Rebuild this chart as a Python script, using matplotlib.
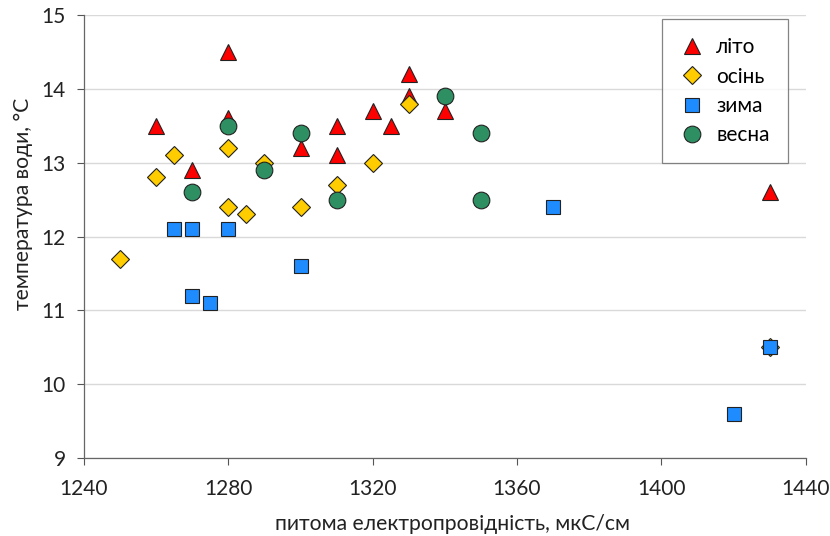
import matplotlib
matplotlib.use("Agg")
import matplotlib.pyplot as plt

plt.rcParams['font.family'] = ['Lato', 'DejaVu Sans']

summer_x = [1260, 1270, 1280, 1280, 1300, 1310, 1310, 1320, 1325, 1330, 1330, 1340, 1430]
summer_y = [13.5, 12.9, 14.5, 13.6, 13.2, 13.5, 13.1, 13.7, 13.5, 14.2, 13.9, 13.7, 12.6]

autumn_x = [1250, 1260, 1265, 1280, 1280, 1285, 1290, 1300, 1310, 1320, 1330, 1430]
autumn_y = [11.7, 12.8, 13.1, 13.2, 12.4, 12.3, 13.0, 12.4, 12.7, 13.0, 13.8, 10.5]

winter_x = [1265, 1270, 1280, 1270, 1275, 1300, 1370, 1420, 1430]
winter_y = [12.1, 12.1, 12.1, 11.2, 11.1, 11.6, 12.4, 9.6, 10.5]

spring_x = [1270, 1280, 1290, 1300, 1310, 1340, 1350, 1350]
spring_y = [12.6, 13.5, 12.9, 13.4, 12.5, 13.9, 13.4, 12.5]

labels = ['літо', 'осінь', 'зима', 'весна']
x_ticks = [1240, 1280, 1320, 1360, 1400, 1440]
y_ticks = [9, 10, 11, 12, 13, 14, 15]

fig = plt.figure(figsize=(8.3, 5.36), dpi=100)
ax = fig.add_axes([0.1012, 0.1455, 0.8695, 0.8265])

edge = '#222222'
ax.plot(summer_x, summer_y, '^', ms=11.5, mfc='#FF0000', mec=edge, mew=0.8, label=labels[0], zorder=3)
ax.plot(autumn_x, autumn_y, 'D', ms=9, mfc='#FFCC00', mec=edge, mew=0.8, label=labels[1], zorder=4)
ax.plot(winter_x, winter_y, 's', ms=10.5, mfc='#1E8CFF', mec=edge, mew=0.8, label=labels[2], zorder=5)
ax.plot(spring_x, spring_y, 'o', ms=12, mfc='#2E9062', mec=edge, mew=0.8, label=labels[3], zorder=6)

ax.set_xlim(1240, 1440)
ax.set_ylim(9, 15)
ax.set_xticks(x_ticks)
ax.set_yticks(y_ticks)
ax.tick_params(axis='both', labelsize=15, length=5, width=0.8, direction='out',
               colors='#555555', labelcolor='#222222')
ax.tick_params(axis='x', pad=10)
ax.tick_params(axis='y', pad=8)
ax.grid(axis='y', color='#D9D9D9', linewidth=1.0)
ax.set_axisbelow(True)
for s in ['top', 'right']:
    ax.spines[s].set_visible(False)
for s in ['left', 'bottom']:
    ax.spines[s].set_color('#666666')
    ax.spines[s].set_linewidth(0.9)

ax.set_xlabel('питома електропровідність, мкС/см', fontsize=15.2, color='#222222',
              va='center')
ax.set_ylabel('температура води, °С', fontsize=15.2, color='#222222', va='center')
ax.xaxis.set_label_coords(0.51, -0.149)
ax.yaxis.set_label_coords(-0.0845, 0.573)

leg = ax.legend(loc='upper right', bbox_to_anchor=(0.975, 0.99), fontsize=15, frameon=True,
                fancybox=False, edgecolor='#666666', borderpad=0.85, labelspacing=0.45,
                handletextpad=0.55, handlelength=1.2, borderaxespad=0.0)
leg.get_frame().set_linewidth(0.9)

fig.savefig('out.png', dpi=100)
